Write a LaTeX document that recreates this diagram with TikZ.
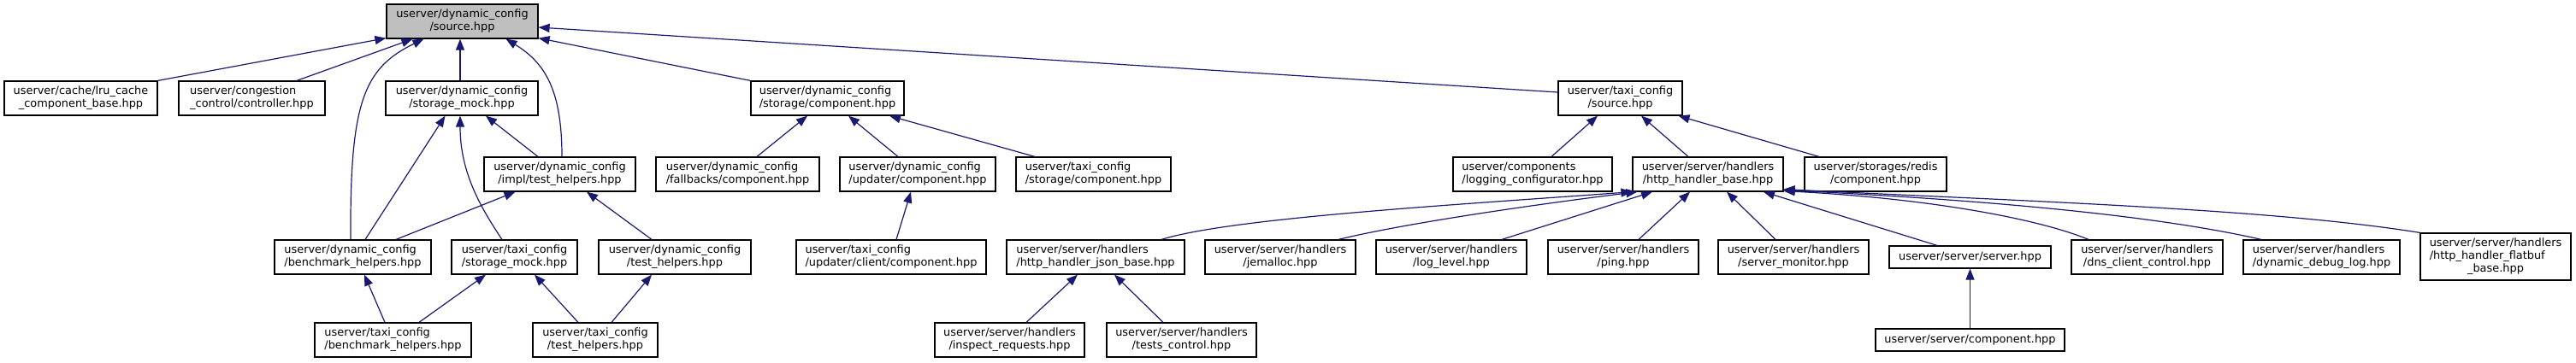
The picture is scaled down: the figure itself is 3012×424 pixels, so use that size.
\documentclass[tikz,border=0pt]{standalone}
\usepackage{fontspec}
\setmainfont{DejaVu Sans}
\usetikzlibrary{arrows.meta}
\definecolor{midnight}{HTML}{191970}
\definecolor{rootfill}{HTML}{BFBFBF}
\newcommand\twol[2]{\begin{tabular}{@{}l@{}}#1\\\multicolumn{1}{@{}c@{}}{#2}\end{tabular}}
\newcommand\threel[3]{\begin{tabular}{@{}l@{}}#1\\#2\\\multicolumn{1}{@{}c@{}}{#3}\end{tabular}}
\tikzset{
  box/.style={draw=black, line width=1.2pt, fill=white, inner sep=0pt,
    minimum height=40pt, font=\fontsize{12.9}{15}\selectfont, text=black},
  edge/.style={draw=midnight, line width=1.2pt, -{Triangle[length=13pt,width=10pt]}}
}
\begin{document}
\begin{tikzpicture}[x=1pt,y=-1pt]
\useasboundingbox (0,0) rectangle (3012,424);
% row 1
\node[box, fill=rootfill, minimum width=177pt] (root) at (540.5,25) {\twol{userver/dynamic\_config}{/source.hpp}};
% row 2
\node[box, minimum width=179pt] (lru) at (94.5,115) {\twol{userver/cache/lru\_cache}{\_component\_base.hpp}};
\node[box, minimum width=171pt] (cong) at (294.5,115) {\twol{userver/congestion}{\_control/controller.hpp}};
\node[box, minimum width=178pt] (dcmock) at (540,115) {\twol{userver/dynamic\_config}{/storage\_mock.hpp}};
\node[box, minimum width=179pt] (dcstor) at (967.5,115) {\twol{userver/dynamic\_config}{/storage/component.hpp}};
\node[box, minimum width=145pt] (taxisrc) at (1894.5,115) {\twol{userver/taxi\_config}{/source.hpp}};
% row 3
\node[box, minimum width=177pt] (impl) at (654.5,204) {\twol{userver/dynamic\_config}{/impl/test\_helpers.hpp}};
\node[box, minimum width=191pt] (fallbacks) at (862.5,204) {\twol{userver/dynamic\_config}{/fallbacks/component.hpp}};
\node[box, minimum width=182pt] (updater) at (1073,204) {\twol{userver/dynamic\_config}{/updater/component.hpp}};
\node[box, minimum width=181pt] (taxistor) at (1278.5,204) {\twol{userver/taxi\_config}{/storage/component.hpp}};
\node[box, minimum width=186pt] (logging) at (1792,204) {\twol{userver/components}{/logging\_configurator.hpp}};
\node[box, minimum width=176pt] (hhb) at (1997,204) {\twol{userver/server/handlers}{/http\_handler\_base.hpp}};
\node[box, minimum width=166pt] (redis) at (2193,204) {\twol{userver/storages/redis}{/component.hpp}};
% row 4
\node[box, minimum width=183pt] (dcbench) at (412.5,301) {\twol{userver/dynamic\_config}{/benchmark\_helpers.hpp}};
\node[box, minimum width=147pt] (taxmock) at (601.5,301) {\twol{userver/taxi\_config}{/storage\_mock.hpp}};
\node[box, minimum width=178pt] (dctest) at (789,301) {\twol{userver/dynamic\_config}{/test\_helpers.hpp}};
\node[box, minimum width=222pt] (client) at (1042,301) {\twol{userver/taxi\_config}{/updater/client/component.hpp}};
\node[box, minimum width=208pt] (json) at (1281,301) {\twol{userver/server/handlers}{/http\_handler\_json\_base.hpp}};
\node[box, minimum width=176pt] (jemalloc) at (1497,301) {\twol{userver/server/handlers}{/jemalloc.hpp}};
\node[box, minimum width=176pt] (loglevel) at (1697,301) {\twol{userver/server/handlers}{/log\_level.hpp}};
\node[box, minimum width=176pt] (ping) at (1898,301) {\twol{userver/server/handlers}{/ping.hpp}};
\node[box, minimum width=176pt] (monitor) at (2097,301) {\twol{userver/server/handlers}{/server\_monitor.hpp}};
\node[box, minimum width=189pt, minimum height=26pt] (server) at (2303.5,301) {userver/server/server.hpp};
\node[box, minimum width=177pt] (dns) at (2510.5,301) {\twol{userver/server/handlers}{/dns\_client\_control.hpp}};
\node[box, minimum width=183pt] (ddl) at (2714.5,301) {\twol{userver/server/handlers}{/dynamic\_debug\_log.hpp}};
\node[box, minimum width=176pt, minimum height=55pt] (flatbuf) at (2918,300.5) {\threel{userver/server/handlers}{/http\_handler\_flatbuf}{\_base.hpp}};
% row 5
\node[box, minimum width=183pt] (taxbench) at (459.5,398) {\twol{userver/taxi\_config}{/benchmark\_helpers.hpp}};
\node[box, minimum width=146pt] (taxtest) at (696,398) {\twol{userver/taxi\_config}{/test\_helpers.hpp}};
\node[box, minimum width=175pt] (inspect) at (1180.5,398) {\twol{userver/server/handlers}{/inspect\_requests.hpp}};
\node[box, minimum width=175pt] (tests) at (1381.5,398) {\twol{userver/server/handlers}{/tests\_control.hpp}};
\node[box, minimum width=221pt, minimum height=26pt] (servcomp) at (2303.5,398) {userver/server/component.hpp};
% edges into root
\draw[edge] (lru.north east) -- ([yshift=1pt]root.south west);
\draw[edge] ([xshift=52.5pt]cong.north) -- ([xshift=-58pt]root.south);
\draw[edge] ([xshift=-2.5pt]dcbench.north) .. controls (409,120) and (425,80) .. ([xshift=-45pt]root.south);
\draw[edge] ([xshift=-2pt]dcmock.north) -- ([xshift=-2.5pt]root.south);
\draw[edge] ([xshift=2.5pt]impl.north) .. controls (657,110) and (640,75) .. ([xshift=51pt]root.south);
\draw[edge] (dcstor.north west) -- ([yshift=1pt]root.south east);
\draw[edge] ([yshift=7pt]taxisrc.west) -- ([yshift=-7pt]root.east);
% dynamic_config/storage_mock
\draw[edge] ([xshift=14.5pt]dcbench.north) -- ([xshift=-19.5pt]dcmock.south);
\draw[edge] ([xshift=-14.5pt]taxmock.north) .. controls (560,240) and (538,200) .. ([xshift=-2pt]dcmock.south);
\draw[edge] ([xshift=-25.5pt]impl.north) -- ([xshift=28pt]dcmock.south);
% impl/test_helpers
\draw[edge] ([xshift=50.5pt]dcbench.north) -- ([xshift=-52pt]impl.south);
\draw[edge] ([xshift=-27pt]dctest.north) -- ([xshift=31.5pt]impl.south);
% row 5 left
\draw[edge] ([xshift=-9.5pt]taxbench.north) -- ([xshift=13.5pt]dcbench.south);
\draw[edge] ([xshift=30.5pt]taxbench.north) -- ([xshift=-33.5pt]taxmock.south);
\draw[edge] ([xshift=-20pt]taxtest.north) -- ([xshift=23.5pt]taxmock.south);
\draw[edge] ([xshift=19pt]taxtest.north) -- ([xshift=-27pt]dctest.south);
% storage/component
\draw[edge] ([xshift=22.5pt]fallbacks.north) -- ([xshift=-23.5pt]dcstor.south);
\draw[edge] ([xshift=-23pt]updater.north) -- ([xshift=24.5pt]dcstor.south);
\draw[edge] ([xshift=-68.5pt]taxistor.north) -- ([xshift=72.5pt]dcstor.south);
\draw[edge] ([xshift=6pt]client.north) -- ([xshift=-8pt]updater.south);
% taxi_config/source
\draw[edge] ([xshift=22pt]logging.north) -- ([xshift=-26.5pt]taxisrc.south);
\draw[edge] ([xshift=-23pt]hhb.north) -- ([xshift=24.5pt]taxisrc.south);
\draw[edge] ([xshift=-66pt]redis.north) -- ([xshift=68pt]taxisrc.south);
% http_handler_base
\draw[edge] ([xshift=77pt]json.north) .. controls (1440,255) and (1700,240) .. (hhb.south west);
\draw[edge] ([xshift=68pt]jemalloc.north) .. controls (1640,262) and (1790,240) .. ([xshift=6pt]hhb.south west);
\draw[edge] ([xshift=59pt]loglevel.north) -- ([xshift=-65pt]hhb.south);
\draw[edge] ([xshift=18pt]ping.north) -- ([xshift=-21pt]hhb.south);
\draw[edge] ([xshift=-21pt]monitor.north) -- ([xshift=22pt]hhb.south);
\draw[edge] ([xshift=-38.5pt]server.north) -- ([xshift=65pt]hhb.south);
\draw[edge] ([xshift=-68.5pt]dns.north) .. controls (2380,255) and (2250,232) .. ([yshift=1pt]hhb.south east);
\draw[edge] ([xshift=-70.5pt]ddl.north) .. controls (2520,252) and (2320,234) .. ([yshift=2pt]hhb.south east);
\draw[edge] (flatbuf.north west) .. controls (2660,245) and (2380,236) .. ([yshift=3pt]hhb.south east);
% json base
\draw[edge] ([xshift=19.5pt]inspect.north) -- ([xshift=-21pt]json.south);
\draw[edge] ([xshift=-21.5pt]tests.north) -- ([xshift=22pt]json.south);
% server
\draw[edge] (servcomp.north) -- (server.south);
\end{tikzpicture}
\end{document}
